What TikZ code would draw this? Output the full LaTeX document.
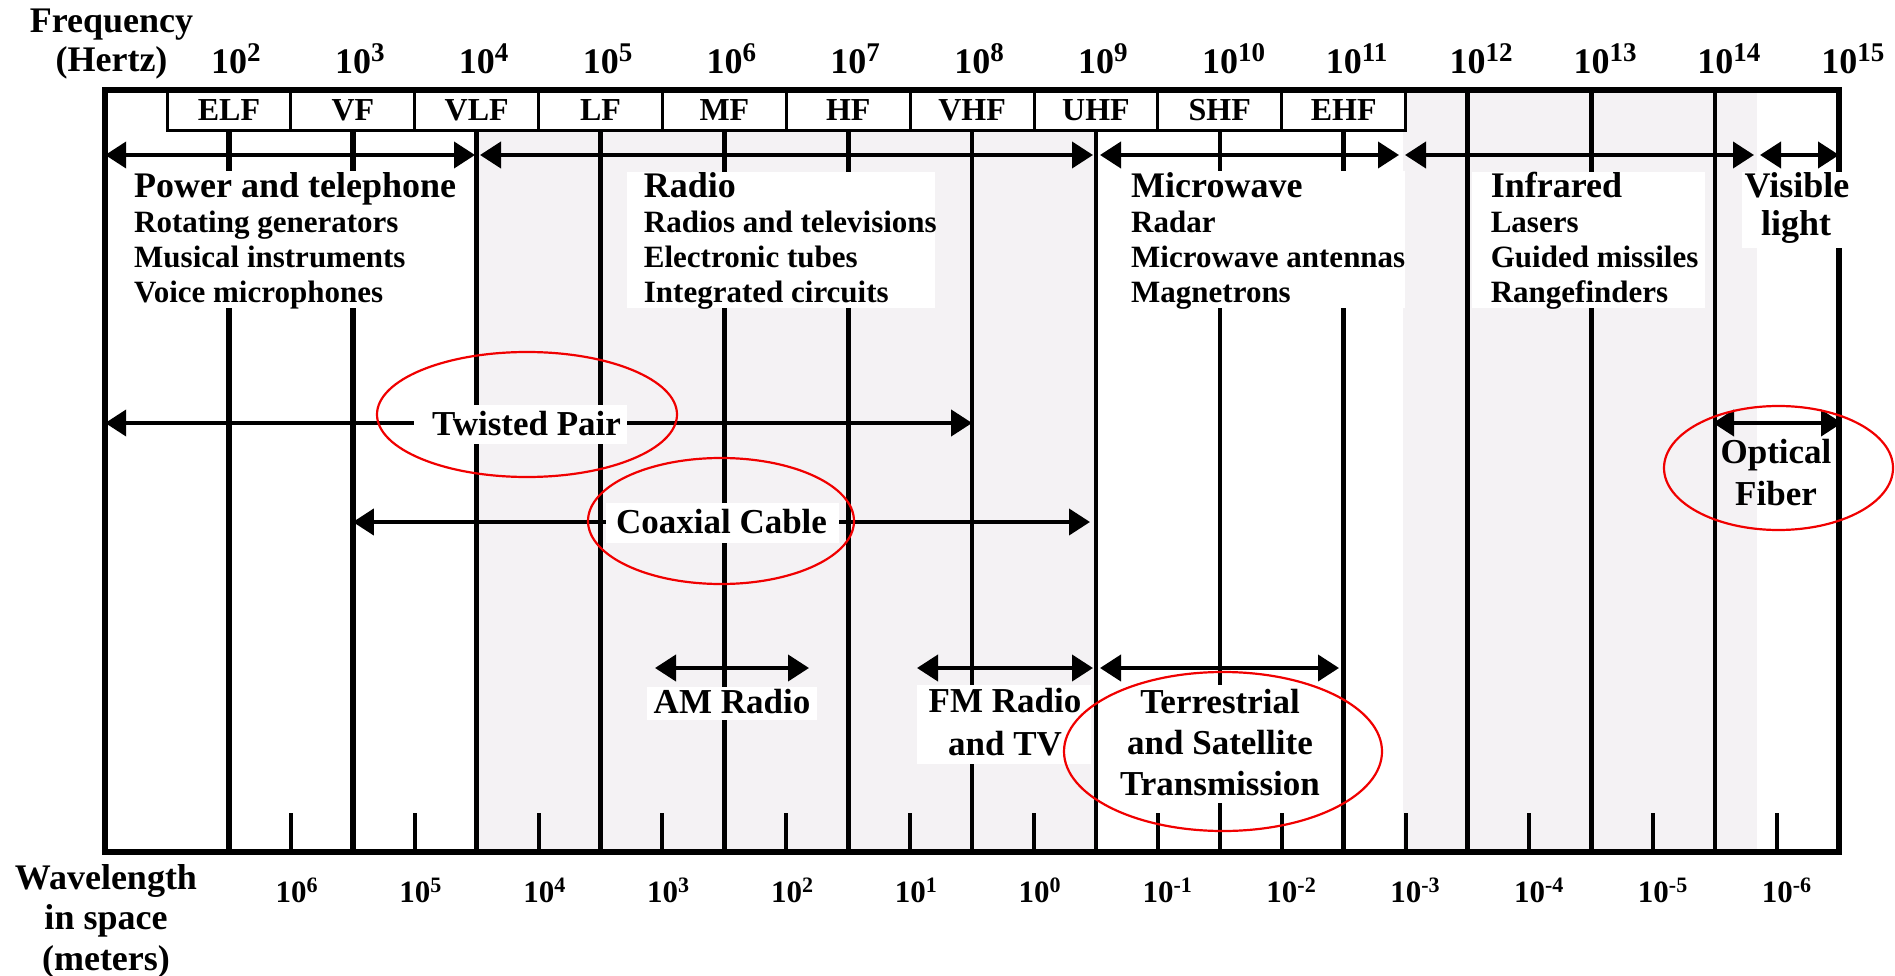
\documentclass[tikz,border=0pt]{standalone}
\usepackage{fontspec}
\setmainfont{Liberation Serif}
\usetikzlibrary{arrows.meta}
\definecolor{bandgray}{RGB}{244,242,244}
\definecolor{ringred}{RGB}{240,0,0}
\newcommand\fpow[1]{10\raisebox{12pt}{\fontsize{27}{27}\selectfont #1}}
\newcommand\wpow[1]{10\raisebox{10pt}{\fontsize{22}{22}\selectfont #1}}
\begin{document}
\begin{tikzpicture}[x=1pt, y=-1pt,
  declare function={X(\n)=229+(\n-2)*123.85;},
  vline/.style={line width=4.5pt},
  vlineb/.style={line width=6pt},
  tickline/.style={line width=4pt},
  frame/.style={line width=6pt},
  bandbox/.style={line width=3pt, fill=white},
  arr/.style={line width=4pt, {Triangle[length=21pt,width=26pt]}-{Triangle[length=21pt,width=26pt]}},
  ring/.style={draw=ringred, line width=2.2pt},
  wbox/.style={fill=white},
  hd/.style={font=\fontsize{36}{40}\selectfont\bfseries, inner sep=0pt, anchor=base west},
  itm/.style={font=\fontsize{31}{35}\selectfont\bfseries, inner sep=0pt, anchor=base west},
  hdc/.style={font=\fontsize{36}{40}\selectfont\bfseries, inner sep=0pt, anchor=base},
  lbl/.style={font=\fontsize{35}{40}\selectfont\bfseries, inner sep=0pt, anchor=base},
  bandlbl/.style={font=\fontsize{32}{36}\selectfont\bfseries, inner sep=0pt, anchor=base},
  freq/.style={font=\fontsize{36}{40}\selectfont\bfseries, inner sep=0pt, anchor=base west},
  wave/.style={font=\fontsize{31}{35}\selectfont\bfseries, inner sep=0pt, anchor=base west}]
\useasboundingbox (0,0) rectangle (1895,976);
% shaded regions
\fill[bandgray] ({X(4)},131) rectangle ({X(9)},852);
\fill[bandgray] (1403,90) rectangle (1757,852);
% vertical decade lines
\foreach \n in {2,3} \draw[vlineb] ({X(\n)},131) -- ({X(\n)},852);
\foreach \n in {4,...,11} \draw[vline] ({X(\n)},131) -- ({X(\n)},852);
\foreach \n in {12,13,14} \draw[vline] ({X(\n)},90) -- ({X(\n)},852);
% wavelength ticks
\foreach \n in {2,...,14} \draw[tickline] ({X(\n+0.5)},813) -- ({X(\n+0.5)},852);
% band boxes
\foreach \n/\t in {2/ELF,3/VF,4/VLF,5/LF,6/MF,7/HF,8/VHF,9/UHF,10/SHF,11/EHF} {
  \draw[bandbox] ({X(\n-0.5)},90) rectangle ({X(\n+0.5)},131);
  \node[bandlbl] (band\n) at ({X(\n)},121) {\t};
}
% frame
\draw[frame] ({X(1)},90) rectangle ({X(15)},852);
% coordinates for arrows
\coordinate (pwL) at ({X(1)},155);   \coordinate (pwR) at (475,155);
\coordinate (raL) at (480,155);      \coordinate (raR) at (1093,155);
\coordinate (mwL) at (1100,155);     \coordinate (mwR) at (1399,155);
\coordinate (irL) at (1405,155);     \coordinate (irR) at (1754,155);
\coordinate (viL) at (1760,155);     \coordinate (viR) at ({X(15)},155);
\coordinate (tpL) at ({X(1)},423);   \coordinate (tpR) at ({X(8)},423);
\coordinate (cxL) at ({X(3)},522);   \coordinate (cxR) at (1090,522);
\coordinate (amL) at (655,668);      \coordinate (amR) at (809,668);
\coordinate (fmL) at (917,668);      \coordinate (fmR) at (1093,668);
\coordinate (stL) at (1100,668);     \coordinate (stR) at (1339,668);
\coordinate (ofL) at (1713,423);     \coordinate (ofR) at (1842,423);
\foreach \a/\b in {pwL/pwR,raL/raR,mwL/mwR,irL/irR,viL/viR,tpL/tpR,cxL/cxR,amL/amR,fmL/fmR,stL/stR,ofL/ofR}
  \draw[arr] (\a) -- (\b);
% white backgrounds of texts
\fill[wbox] (115,171) rectangle (470,308);
\fill[wbox] (627,172) rectangle (935,308);
\fill[wbox] (1115,171) rectangle (1405,308);
\fill[wbox] (1472,172) rectangle (1705,308);
\fill[wbox] (1742,172) rectangle (1850,248);
\fill[wbox] (414,405) rectangle (627,444);
\fill[wbox] (606,503) rectangle (839,543);
\fill[wbox] (647,687) rectangle (817,720);
\fill[wbox] (917,685) rectangle (1091,764);
\fill[wbox] (1110,685) rectangle (1330,803);
% category texts
\node[hd]  (pw0) at (134,198) {Power and telephone};
\node[itm] (pw1) at (134,233) {Rotating generators};
\node[itm] (pw2) at (134,268) {Musical instruments};
\node[itm] (pw3) at (134,302) {Voice microphones};
\node[hd]  (ra0) at (643.7,198) {Radio};
\node[itm] (ra1) at (643.7,233) {Radios and televisions};
\node[itm] (ra2) at (643.7,268) {Electronic tubes};
\node[itm] (ra3) at (643.7,302) {Integrated circuits};
\node[hd]  (mw0) at (1131,198) {Microwave};
\node[itm] (mw1) at (1131,233) {Radar};
\node[itm] (mw2) at (1131,268) {Microwave antennas};
\node[itm] (mw3) at (1131,302) {Magnetrons};
\node[hd]  (ir0) at (1490.6,198) {Infrared};
\node[itm] (ir1) at (1490.6,233) {Lasers};
\node[itm] (ir2) at (1490.6,268) {Guided missiles};
\node[itm] (ir3) at (1490.6,302) {Rangefinders};
\node[hdc] (vi0) at (1797,198) {Visible};
\node[hdc] (vi1) at (1796,236) {light};
% medium labels
\node[lbl] (tp) at (526.5,435) {Twisted Pair};
\node[lbl] (cx) at (721.5,533) {Coaxial Cable};
\node[lbl] (am) at (732,713) {AM Radio};
\node[lbl] (fm0) at (1005,712) {FM Radio};
\node[lbl] (fm1) at (1005,755) {and TV};
\node[lbl] (st0) at (1220,713) {Terrestrial};
\node[lbl] (st1) at (1220,754) {and Satellite};
\node[lbl] (st2) at (1220,795) {Transmission};
\node[lbl] (of0) at (1776,463) {Optical};
\node[lbl] (of1) at (1776,505) {Fiber};
% axis titles
\node[hdc] (fq0) at (111.5,33) {Frequency};
\node[hdc] (fq1) at (111.5,72) {(Hertz)};
\node[hdc] (wl0) at (106,889) {Wavelength};
\node[hdc] (wl1) at (106,929) {in space};
\node[hdc] (wl2) at (106,970) {(meters)};
% frequency labels
\foreach \n in {2,...,15} \node[freq] (fl\n) at ({X(\n)-18},74) {\fpow{\n}};
% wavelength labels
\foreach \n/\e in {2/6,3/5,4/4,5/3,6/2,7/1,8/0,9/-1,10/-2,11/-3,12/-4,13/-5,14/-6}
  \node[wave] (wv\n) at ({X(\n+0.5)-15.5},902) {\wpow{\e}};
% red rings
\draw[ring] (527,414.5) ellipse [x radius=150, y radius=62.5];
\draw[ring] (721,521) ellipse [x radius=133, y radius=63];
\draw[ring] (1223,751.5) ellipse [x radius=159, y radius=79.5];
\draw[ring] (1778.5,468) ellipse [x radius=114.5, y radius=62];
\end{tikzpicture}
\end{document}
